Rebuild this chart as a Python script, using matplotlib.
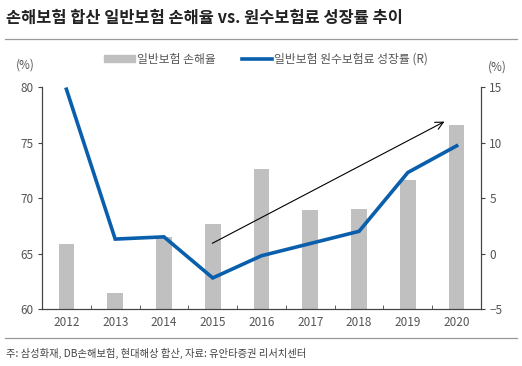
#!/usr/bin/env python3

import numpy as np
from matplotlib import pyplot as plt
from matplotlib.lines import Line2D

plt.rcParams['font.family'] = ['Noto Sans CJK KR', 'DejaVu Sans']

years = ['2012', '2013', '2014', '2015', '2016', '2017', '2018', '2019', '2020']
loss_ratio = [65.9, 61.4, 66.5, 67.7, 72.6, 68.9, 69.0, 71.6, 76.6]
premium_growth = [14.8, 1.3, 1.5, -2.2, -0.2, 0.9, 2.0, 7.3, 9.7]

bar_color = '#c0c0c0'
line_color = '#0a5fac'
text_color = '#555555'
axis_color = '#444444'

fig = plt.figure(figsize=(5.22, 3.66), dpi=100)
ax = fig.add_axes([0.0805, 0.1557, 0.841, 0.6066])
ax2 = ax.twinx()

x = np.arange(len(years))
ax.bar(x, loss_ratio, width=0.32, color=bar_color, zorder=2)
ax2.plot(x, premium_growth, color=line_color, lw=2.6, solid_joinstyle='miter',
         zorder=3)

ax.set_xlim(-0.5, len(years) - 0.5)
ax.set_ylim(60, 80)
ax.set_yticks([60, 65, 70, 75, 80])
ax2.set_ylim(-5, 15)
ax2.set_yticks([-5, 0, 5, 10, 15])
ax2.set_yticklabels(['\u22125', '0', '5', '10', '15'])

ax.set_xticks(x)
ax.set_xticklabels(years)
ax.set_xticks(np.arange(-0.5, len(years)), minor=True)
ax.tick_params(axis='x', which='major', length=0, pad=5,
               labelsize=8.5, labelcolor=text_color)
ax.tick_params(axis='x', which='minor', direction='in', length=3,
               color=axis_color)
ax.tick_params(axis='y', length=3, labelsize=8.5, labelcolor=text_color,
               color=axis_color, pad=3)
ax2.tick_params(axis='y', length=3, labelsize=8.5, labelcolor=text_color,
                color=axis_color, pad=3)

for a in (ax, ax2):
    a.spines['top'].set_visible(False)
    for s in ('left', 'right', 'bottom'):
        a.spines[s].set_color(axis_color)
        a.spines[s].set_linewidth(0.8)

# trend arrow
ax.annotate('', xy=(7.8, 77.0), xytext=(2.94, 65.8),
            arrowprops=dict(arrowstyle='->', color='black', lw=0.8,
                            mutation_scale=14), zorder=4)

# title and rules
fig.text(0.012, 0.952, '손해보험 합산 일반보험 손해율 vs. 원수보험료 성장률 추이',
         fontsize=11.8, fontweight='bold', color='#222222', va='center')
fig.add_artist(Line2D([0.01, 0.99], [0.893, 0.893], color='#999999', lw=0.9))
fig.add_artist(Line2D([0.01, 0.99], [0.077, 0.077], color='#999999', lw=0.9))
fig.text(0.012, 0.033, '주: 삼성화재, DB손해보험, 현대해상 합산, 자료: 유안타증권 리서치센터',
         fontsize=7.4, color='#444444', va='center')

# axis units
fig.text(0.03, 0.823, '(%)', fontsize=8.5, color=text_color, va='center')
fig.text(0.935, 0.817, '(%)', fontsize=8.5, color=text_color, va='center')

# legend
handles = [plt.Rectangle((0, 0), 1, 1, color=bar_color),
           Line2D([], [], color=line_color, lw=2.6)]
labels = ['일반보험 손해율', '일반보험 원수보험료 성장률 (R)']
fig.legend(handles, labels, loc='center', bbox_to_anchor=(0.51, 0.838),
           ncol=2, frameon=False, fontsize=8.5, labelcolor=text_color,
           handlelength=2.6, handleheight=0.45, handletextpad=0.15,
           columnspacing=2.2)

plt.savefig('out.png', dpi=100)
